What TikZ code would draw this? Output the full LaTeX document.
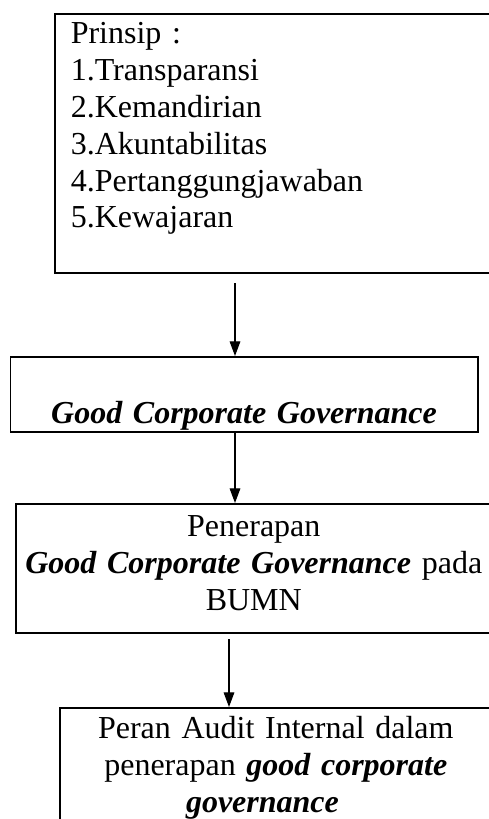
\documentclass[tikz,border=0pt]{standalone}
\usepackage{fontspec}
\setmainfont{Liberation Serif}
\usetikzlibrary{arrows.meta}
\begin{document}
\begin{tikzpicture}[x=0.375pt,y=-0.375pt,
    kotak/.style={draw,line width=0.6pt,rectangle,inner sep=0pt,anchor=north west,
      font=\fontsize{12}{13.8}\selectfont},
    panah/.style={-{Triangle[length=5.5pt,width=4pt]},line width=0.45pt}]
  \useasboundingbox (0,0) rectangle (489,819);
  \clip (0,0) rectangle (489,819);
  \node[kotak,align=left,inner xsep=6pt,text width=151.9pt,
    text height=11.25pt,text depth=85.9pt] (prinsip) at (54,13)
    {Prinsip :\\1.Transparansi\\2.Kemandirian\\3.Akuntabilitas\\
     4.Pertanggungjawaban\\5.Kewajaran};
  \node[kotak,align=center,text width=175.3pt,
    text height=25.1pt,text depth=3pt] (gcg) at (9.5,356)
    {\textbf{\textit{Good Corporate Governance}}};
  \node[kotak,align=center,text width=178.5pt,
    text height=12.4pt,text depth=36pt] (penerapan) at (15,503)
    {Penerapan\\\textbf{\textit{Good Corporate Governance}} pada\\BUMN};
  \node[kotak,align=center,text width=162pt,
    text height=11.6pt,text depth=34.5pt] (peran) at (59,707)
    {Peran Audit Internal dalam\\penerapan \textbf{\textit{good corporate}}\\
     \textbf{\textit{governance}}\hspace*{10pt}\mbox{}};
  \coordinate (a1) at (235,283);
  \coordinate (a3) at (229,639);
  \begin{scope}[panah]
    \draw (a1) -- (gcg.north -| a1);
    \draw (gcg.south -| a1) -- (penerapan.north -| a1);
    \draw (a3) -- (peran.north -| a3);
  \end{scope}
\end{tikzpicture}
\end{document}
